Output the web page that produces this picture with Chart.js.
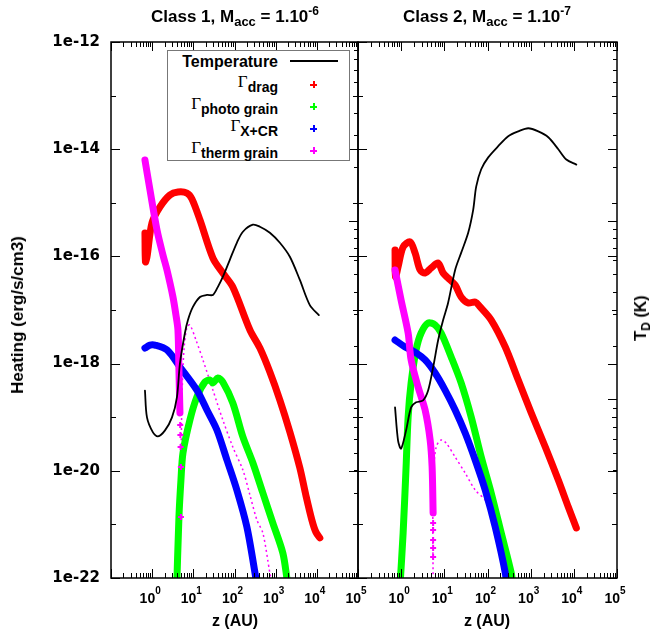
<!DOCTYPE html>
<html>
<head>
<meta charset="utf-8">
<script src="https://cdn.jsdelivr.net/npm/chart.js@4.4.1/dist/chart.umd.min.js"></script>
<style>
  body { margin: 0; background: #fff; width: 652px; height: 637px; overflow: hidden; position: relative;
         font-family: "Liberation Sans", Arial, sans-serif; }
  canvas { position: absolute; left: 0; top: 0; }
  .t { position: absolute; font-weight: bold; white-space: nowrap; color: #000; }
  .t sub, .t sup { line-height: 0; }
  .title { font-size: 17px; line-height: 17px; transform: translateX(-50%); }
  .title sub { font-size: 13px; vertical-align: -4px; }
  .title sup { font-size: 12px; vertical-align: 7px; }
  .xt { font-size: 16px; line-height: 16px; transform: translateX(-50%); }
  .yt { transform: translate(-50%, -50%) rotate(-90deg); line-height: 18px; }
  .lg { position: absolute; white-space: nowrap; color: #000; }
  .g { font-family: "Liberation Serif", serif; font-size: 17px; line-height: 18px; text-align: right; }
  .g sub { font-family: "Liberation Sans", sans-serif; font-weight: bold; font-size: 14px; vertical-align: -5px; line-height: 0; }
  .mk { position: absolute; width: 7px; height: 7px;
        background: linear-gradient(currentColor, currentColor) center / 7px 2px no-repeat,
                    linear-gradient(currentColor, currentColor) center / 2px 7px no-repeat; }
</style>
</head>
<body>
<canvas id="c1" width="652" height="637"></canvas>
<canvas id="c2" width="652" height="637"></canvas>

<div class="t title" style="left:235px;top:8px">Class 1, M<sub>acc</sub> = 1.10<sup>-6</sup></div>
<div class="t title" style="left:487px;top:8px">Class 2, M<sub>acc</sub> = 1.10<sup>-7</sup></div>
<div class="t xt" style="left:235px;top:613px">z (AU)</div>
<div class="t xt" style="left:487px;top:613px">z (AU)</div>
<div class="t yt" style="left:18px;top:315px;font-size:17px">Heating (erg/s/cm3)</div>
<div class="t yt" style="left:641px;top:318px;font-size:16px">T<sub style="font-size:12px;vertical-align:-4px">D</sub> (K)</div>

<div style="position:absolute;left:167px;top:50px;width:181px;height:109px;border:1px solid #777;background:#fff"></div>
<div class="lg" style="right:374px;top:54px;font-weight:bold;font-size:16px;line-height:16px">Temperature</div>
<div style="position:absolute;left:290px;top:60px;width:48px;height:2px;background:#000"></div>
<div class="lg g" style="right:374px;top:73px">&Gamma;<sub>drag</sub></div>
<div class="lg g" style="right:374px;top:95px">&Gamma;<sub>photo grain</sub></div>
<div class="lg g" style="right:374px;top:117px">&Gamma;<sub>X+CR</sub></div>
<div class="lg g" style="right:374px;top:139px">&Gamma;<sub>therm grain</sub></div>
<div class="mk" style="left:310px;top:81px;color:#ff0000"></div>
<div class="mk" style="left:310px;top:103px;color:#00ff00"></div>
<div class="mk" style="left:310px;top:125px;color:#0000ff"></div>
<div class="mk" style="left:310px;top:147px;color:#ff00ff"></div>

<script>
// axes
const zRange = [0.1, 1e5];
const heatRange = [1e-22, 1e-12];
const tempRange = [1, 1000];
const heatTickLabels = ['1e-22', '1e-20', '1e-18', '1e-16', '1e-14', '1e-12'];
const zTickExp = [0, 1, 2, 3, 4, 5];

// Class 1 panel
const c1TempZ = [0.668, 0.748, 1.045, 1.38, 2.05, 3.03, 4.0, 4.73, 6.25, 7.4, 9.77, 14.5, 21.4, 29.9, 39.5, 52, 77, 114, 160, 280, 414, 723, 1265, 2213, 3867, 6760, 11200];
const c1TempT = [11.2, 7.92, 6.53, 6.2, 6.7, 7.92, 10.3, 15.9, 23.5, 27.8, 32.9, 37.4, 38.4, 38.4, 42.6, 48.4, 60.4, 75.2, 86.7, 95, 92.5, 85.6, 75.2, 62.8, 46.6, 33.7, 29.6];
const c1DragZ = [0.668, 0.688, 0.748, 0.99, 1.55, 2.70, 4.23, 7.0, 9.25, 14.5, 29.9, 52, 91, 237, 414, 723, 1265, 2213, 3867, 5400, 7570, 9460, 11830];
const c1DragH = [2.73e-16, 7.9e-17, 9.75e-17, 4.2e-16, 8.4e-16, 1.40e-15, 1.59e-15, 1.52e-15, 1.18e-15, 4.78e-16, 9.33e-17, 4.9e-17, 2.69e-17, 4.24e-18, 1.95e-18, 6.97e-19, 2.09e-19, 5.3e-20, 1.13e-20, 3.54e-21, 1.21e-21, 7.2e-22, 5.6e-22];
const c1PhotoZ = [3.9, 4.47, 5.0, 5.6, 8.27, 12.2, 19.2, 25.3, 29.9, 39.5, 52, 91, 160, 280, 489, 855, 1496, 1870, 2100];
const c1PhotoH = [5e-23, 1.37e-21, 6.7e-21, 2.15e-20, 8.9e-20, 2.38e-19, 4.54e-19, 4.95e-19, 4.35e-19, 5.4e-19, 4.54e-19, 1.84e-19, 4.28e-20, 1.4e-20, 3.85e-21, 1.06e-21, 2.92e-22, 1e-22, 5e-23];
const c1XcrZ = [0.668, 0.885, 1.17, 2.29, 4.73, 12.2, 21.4, 37.4, 65.5, 114, 200, 330, 400];
const c1XcrH = [1.95e-18, 2.22e-18, 2.22e-18, 1.8e-18, 8.65e-19, 3.2e-19, 1.36e-19, 5.77e-20, 1.59e-20, 4.38e-21, 8.9e-22, 1e-22, 4e-23];
const c1ThermZ = [0.668, 0.885, 1.31, 1.83, 2.29, 3.20, 3.78, 4.23, 4.47, 4.73];
const c1ThermH = [6.3e-15, 1.73e-15, 3.11e-16, 1.06e-16, 5.57e-17, 1.75e-17, 8.07e-18, 4.24e-18, 7.6e-19, 1.2e-19];
const c1ThermPtsZ = [4.8, 4.85, 4.9, 5.0, 5.0];
const c1ThermPtsH = [7.14e-20, 4.66e-20, 2.78e-20, 1.18e-20, 1.37e-21];
const c1ThermNegZ = [5.0, 5.29, 5.92, 7.0, 8.27, 11.6, 17.1, 29.9, 52, 91, 160, 237, 350, 489, 723, 900];
const c1ThermNegH = [1.03e-20, 2.1e-19, 1.8e-18, 4.8e-18, 5.25e-18, 2.75e-18, 1.17e-18, 3.2e-19, 8.9e-20, 2.78e-20, 1.03e-20, 3.54e-21, 1.21e-21, 6.9e-22, 1.24e-22, 5e-23];

// Class 2 panel
const c2TempZ = [0.721, 0.847, 0.995, 1.30, 1.70, 2.22, 3.22, 4.21, 5.5, 7.18, 9.38, 12.2, 17.8, 24.5, 35.7, 46.6, 54.7, 71.5, 104, 177, 302, 516, 879, 1500, 2559, 4368, 6700, 11430];
const c2TempT = [9.02, 5.88, 5.3, 6.7, 9.02, 9.62, 9.87, 11.2, 15.1, 21.4, 27.8, 34.6, 53, 66, 85.6, 115, 155, 194, 226, 261, 297, 316, 329, 316, 293, 251, 220, 206];
const c2DragZ = [0.721, 0.741, 0.847, 1.11, 1.61, 2.10, 2.75, 3.59, 4.94, 7.18, 9.38, 12.2, 17.8, 24.5, 35.7, 51.9, 67.7, 122, 258, 516, 1033, 2183, 4368, 7450, 11430];
const c2DragH = [1.32e-16, 4.13e-17, 6.34e-17, 1.5e-16, 1.86e-16, 1.16e-16, 5.57e-17, 4.9e-17, 6.08e-17, 7.53e-17, 4.9e-17, 3.95e-17, 2.92e-17, 1.75e-17, 1.35e-17, 1.41e-17, 1.14e-17, 6.5e-18, 2.04e-18, 4.94e-19, 1.2e-19, 2.78e-20, 6.73e-21, 2.11e-21, 8.57e-22];
const c2PhotoZ = [0.942, 1.11, 1.30, 1.45, 1.70, 2.22, 2.90, 4.21, 6.12, 8.44, 14.4, 24.5, 41.9, 71.5, 122, 208, 355, 400];
const c2PhotoH = [7.4e-23, 6.92e-22, 1.18e-20, 1.01e-19, 4.35e-19, 1.8e-18, 3.72e-18, 5.72e-18, 5.25e-18, 3.72e-18, 1.33e-18, 4.35e-19, 1.01e-19, 1.81e-20, 3.85e-21, 6.92e-22, 1.24e-22, 6e-23];
const c2XcrZ = [0.721, 1.23, 2.10, 3.59, 6.12, 10.4, 17.8, 30.4, 51.9, 88.5, 151, 258, 290];
const c2XcrH = [2.75e-18, 2.04e-18, 1.64e-18, 1.17e-18, 6.68e-19, 3.21e-19, 1.36e-19, 5.07e-20, 1.59e-20, 4.38e-21, 8.93e-22, 1.24e-22, 5e-23];
const c2ThermZ = [0.721, 0.995, 1.45, 1.70, 2.47, 3.59, 4.69, 5.21, 5.5];
const c2ThermH = [5.57e-17, 1.54e-17, 3.72e-18, 1.17e-18, 3.66e-19, 1.36e-19, 3.76e-20, 1.18e-20, 1.63e-21];
const c2ThermPtsZ = [5.5, 5.5, 5.5, 5.5, 5.5];
const c2ThermPtsH = [1.06e-21, 7.87e-22, 5.12e-22, 3.63e-22, 2.47e-22];
const c2ThermNegZ = [5.5, 5.5, 6.46, 8.44, 11.0, 17.8, 30.4, 51.9, 88.5, 122, 177, 258, 286];
const c2ThermNegH = [5e-23, 6.7e-21, 2.78e-20, 3.76e-20, 3.3e-20, 1.81e-20, 9.1e-21, 4.38e-21, 2.85e-21, 1.63e-21, 5.12e-22, 1.6e-22, 9e-23];

const RED = '#ff0000', GREEN = '#00ff00', BLUE = '#0000ff', MAGENTA = '#ff00ff';

function series(zs, vs, color, width, extra) {
  return Object.assign({
    data: zs.map((z, i) => ({ x: z, y: vs[i] })),
    borderColor: color,
    backgroundColor: color,
    borderWidth: width,
    pointRadius: 0,
    tension: 0.3,
    clip: 0,
    borderCapStyle: 'round',
    borderJoinStyle: 'round',
    yAxisID: 'y',
  }, extra);
}

function panelData(p) {
  return [
    series(p.tempZ, p.tempT, '#000', 1.8, { yAxisID: 'y2', order: -1 }),
    series(p.thermZ, p.thermH, MAGENTA, 7, { order: 0 }),
    series(p.thermPtsZ, p.thermPtsH, MAGENTA, 2, { showLine: false, pointRadius: 3, pointStyle: 'cross', order: 0 }),
    series(p.xcrZ, p.xcrH, BLUE, 7, { order: 1 }),
    series(p.photoZ, p.photoH, GREEN, 7, { order: 2 }),
    series(p.dragZ, p.dragH, RED, 7, { order: 3 }),
    series(p.negZ, p.negH, MAGENTA, 1.5, { borderDash: [2, 3], borderCapStyle: 'butt', order: 4 }),
  ];
}

const hExp = heatRange.map(v => Math.round(Math.log10(v)));
const zExp = zRange.map(v => Math.round(Math.log10(v)));
const tExp = tempRange.map(v => Math.round(Math.log10(v)));

// frame, inward ticks and superscript x labels, as in the gnuplot original
const frame = {
  id: 'frame',
  afterDraw(chart) {
    const { ctx, chartArea: a } = chart;
    const sx = chart.scales.x, sy = chart.scales.y, st = chart.scales.y2;
    const r = v => Math.round(v) + 0.5;
    const seg = (x0, y0, x1, y1) => { ctx.moveTo(x0, y0); ctx.lineTo(x1, y1); };
    ctx.save();
    ctx.strokeStyle = '#000';
    ctx.lineWidth = 1;
    ctx.beginPath();
    for (let e = zExp[0]; e <= zExp[1]; e++) {
      for (let m = 1; m <= 9; m++) {
        if (e === zExp[1] && m > 1) break;
        const px = r(sx.getPixelForValue(m * Math.pow(10, e)));
        const len = m === 1 ? 9 : 5;
        seg(px, a.bottom, px, a.bottom - len);
        seg(px, a.top, px, a.top + len);
      }
    }
    for (let e = hExp[0]; e <= hExp[1]; e++) {
      const py = r(sy.getPixelForValue(Math.pow(10, e)));
      const len = e % 2 === 0 ? 9 : 5;
      seg(a.left, py, a.left + len, py);
      seg(a.right, py, a.right - len, py);
    }
    for (let e = tExp[0]; e <= tExp[1]; e++) {
      for (let m = 1; m <= 9; m++) {
        if (e === tExp[1] && m > 1) break;
        const py = r(st.getPixelForValue(m * Math.pow(10, e)));
        seg(a.right, py, a.right - (m === 1 ? 9 : 4), py);
      }
    }
    ctx.stroke();
    ctx.lineWidth = 1.5;
    ctx.strokeRect(a.left, a.top, a.right - a.left, a.bottom - a.top);

    ctx.fillStyle = '#000';
    ctx.textBaseline = 'alphabetic';
    ctx.textAlign = 'left';
    zTickExp.forEach(e => {
      const px = sx.getPixelForValue(Math.pow(10, e));
      ctx.font = 'bold 14px "Liberation Sans"';
      const w1 = ctx.measureText('10').width;
      ctx.font = 'bold 10px "Liberation Sans"';
      const w2 = ctx.measureText(String(e)).width;
      const x0 = px - (w1 + w2) / 2 - 2;
      ctx.font = 'bold 14px "Liberation Sans"';
      ctx.fillText('10', x0, 603);
      ctx.font = 'bold 10px "Liberation Sans"';
      ctx.fillText(String(e), x0 + w1, 594);
    });
    ctx.restore();
  }
};

// left: width given to the heating axis (it counts even when hidden)
function makeChart(id, p, left, right, labels) {
  return new Chart(document.getElementById(id), {
    type: 'line',
    data: { datasets: panelData(p) },
    plugins: [frame],
    options: {
      responsive: false,
      animation: false,
      layout: { padding: { top: 42, bottom: 59, left: 0, right: right } },
      plugins: { legend: { display: false }, tooltip: { enabled: false }, title: { display: false } },
      scales: {
        x: { type: 'logarithmic', min: zRange[0], max: zRange[1], display: false },
        y: {
          type: 'logarithmic', position: 'left', min: heatRange[0], max: heatRange[1],
          grid: { display: false, drawTicks: false },
          border: { display: false },
          afterBuildTicks: s => {
            s.ticks = [];
            for (let e = hExp[0]; e <= hExp[1]; e++) s.ticks.push({ value: Math.pow(10, e) });
          },
          afterFit: s => { s.width = left; },
          ticks: {
            display: labels,
            autoSkip: false,
            padding: 11,
            color: '#000',
            font: { family: 'DejaVu Sans', weight: 'bold', size: 15 },
            callback: v => heatTickLabels.find(l => Math.abs(Math.log10(parseFloat(l)) - Math.log10(v)) < 0.01) || '',
          },
        },
        y2: { type: 'logarithmic', position: 'right', min: tempRange[0], max: tempRange[1], display: false },
      },
    },
  });
}

makeChart('c1', {
  tempZ: c1TempZ, tempT: c1TempT, dragZ: c1DragZ, dragH: c1DragH, photoZ: c1PhotoZ, photoH: c1PhotoH,
  xcrZ: c1XcrZ, xcrH: c1XcrH, thermZ: c1ThermZ, thermH: c1ThermH, thermPtsZ: c1ThermPtsZ, thermPtsH: c1ThermPtsH,
  negZ: c1ThermNegZ, negH: c1ThermNegH,
}, 111, 652 - 358, true);

makeChart('c2', {
  tempZ: c2TempZ, tempT: c2TempT, dragZ: c2DragZ, dragH: c2DragH, photoZ: c2PhotoZ, photoH: c2PhotoH,
  xcrZ: c2XcrZ, xcrH: c2XcrH, thermZ: c2ThermZ, thermH: c2ThermH, thermPtsZ: c2ThermPtsZ, thermPtsH: c2ThermPtsH,
  negZ: c2ThermNegZ, negH: c2ThermNegH,
}, 358, 652 - 617, false);
</script>
</body>
</html>
